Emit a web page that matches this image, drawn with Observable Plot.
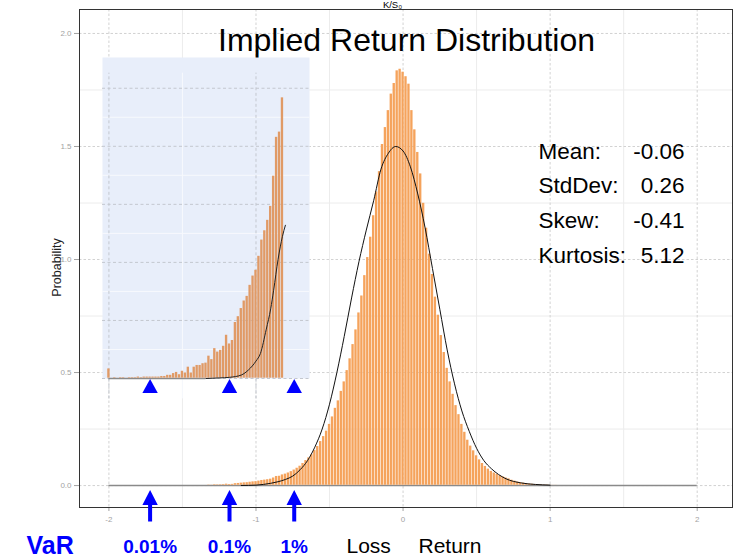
<!DOCTYPE html>
<html><head><meta charset="utf-8">
<script src="https://cdn.jsdelivr.net/npm/d3@7"></script>
<script src="https://cdn.jsdelivr.net/npm/@observablehq/plot@0.6"></script>
<style>
html,body{margin:0;padding:0;background:#fff;}
#wrap{position:relative;width:734px;height:557px;overflow:hidden;}
#wrap svg{position:absolute;max-width:none;}
</style></head><body><div id="wrap"></div>
<script>
// ---------------- DATA ----------------
// histogram bins: centres from -2.00 step 0.02
const binStart = -2.00;
const binWidth = 0.02;
const density = [
  0.0017,0.0001,0.0002,0.0001,0.0002,0.0002,0.0001,0.0002,0.0002,0.0002,
  0.0003,0.0002,0.0003,0.0003,0.0003,0.0003,0.0003,0.0003,0.0004,0.0004,
  0.0006,0.0006,0.0009,0.0011,0.0007,0.0013,0.0010,0.0020,0.0010,0.0020,
  0.0023,0.0023,0.0026,0.0027,0.0039,0.0033,0.0052,0.0046,0.0049,0.0056,
  0.0075,0.0060,0.0066,0.0097,0.0107,0.0121,0.0134,0.0142,0.0161,0.0177,
  0.0187,0.0211,0.0239,0.0255,0.0273,0.0297,0.0349,0.0416,0.0425,0.0484,
  0.052,0.057,0.063,0.070,0.078,0.087,0.099,0.112,0.124,0.138,
  0.156,0.174,0.196,0.218,0.242,0.272,0.305,0.343,0.376,0.418,
  0.46,0.51,0.562,0.625,0.69,0.765,0.84,0.93,1.01,1.10,
  1.195,1.30,1.39,1.51,1.585,1.66,1.733,1.78,1.836,1.843,
  1.83,1.81,1.777,1.66,1.575,1.475,1.38,1.25,1.14,1.025,
  0.935,0.835,0.755,0.665,0.59,0.52,0.46,0.405,0.355,0.315,
  0.272,0.237,0.202,0.176,0.155,0.133,0.115,0.099,0.086,0.074,
  0.064,0.057,0.051,0.045,0.040,0.035,0.031,0.025,0.021,0.017,
  0.014,0.012,0.010,0.008,0.007,0.006,0.005,0.005,0.004,0.004,
  0.003,0.003,0.003,0.002,0.002,0.002,0.002,0.002,0.002,0.001,
  0,0,0.002,0.002,0.002
];
// fitted normal curve (main panel)
const curveX = [-1.1,-1.0,-0.95,-0.9,-0.85,-0.8,-0.75,-0.7,-0.65,-0.6,
  -0.55,-0.5,-0.45,-0.4,-0.35,-0.3,-0.25,-0.2,-0.15,-0.1,
  -0.05,0,0.05,0.1,0.15,0.2,0.25,0.3,0.35,0.4,
  0.45,0.5,0.55,0.6,0.7,0.8,0.9,1.0];
const curveY = [0.0005,0.002,0.005,0.010,0.017,0.027,0.042,0.070,0.11,0.17,
  0.25,0.36,0.50,0.66,0.83,0.99,1.13,1.26,1.40,1.47,
  1.50,1.48,1.41,1.29,1.14,0.96,0.78,0.60,0.45,0.33,
  0.24,0.165,0.11,0.075,0.03,0.012,0.005,0.002];
// fitted normal curve (tail inset)
const insetCurveX = [-1.34,-1.25,-1.18,-1.1,-1.05,-1.0,-0.97,-0.93,-0.9,-0.88,-0.85,-0.82,-0.80];
const insetCurveY = [0,0.0001,0.0002,0.0006,0.0015,0.003,0.0043,0.0085,0.012,0.0152,0.0205,0.0245,0.0264];
const insetLastBin = -0.82;
// VaR levels
const varLabels = ["0.01%","0.1%","1%"];
const varX = [-1.72,-1.18,-0.74];
// statistics
const statLabels = ["Mean:","StdDev:","Skew:","Kurtosis:"];
const statValues = ["-0.06","0.26","-0.41","5.12"];
// ticks
const xTicks = [-2,-1,0,1,2];
const xMinor = [-1.5,-0.5,0.5,1.5];
const yTicks = [0,0.5,1,1.5,2];
const yMinor = [0.25,0.75,1.25,1.75];
const insetMajorY = [0,0.01,0.02,0.03,0.04,0.05];
const insetMinorY = [0.005,0.015,0.025,0.035,0.045];
const insetMajorX = [-2,-1];
const insetMinorX = [-1.5];

// ---------------- BUILD ----------------
const bins = density.map((h,i)=>({x: +(binStart + i*binWidth).toFixed(2), h}));
const insetBins = bins.filter(d => d.x <= insetLastBin + 1e-9);
const curve = curveX.map((x,i)=>({x, y: curveY[i]}));
const insetCurve = insetCurveX.map((x,i)=>({x, y: insetCurveY[i]}));

const FONT = '"Liberation Sans", Arial, Helvetica, sans-serif';
const W = 734, H = 557;
const M = {top: 9, right: 2, bottom: 50, left: 79};
const xDomain = [-2.2, 2.24];
const yDomain = [-0.097, 2.106];
const BLUE = "#0000ff";
const BAR = "#f5a35c";

const upArrow = {draw(ctx){
  ctx.moveTo(0,-17.5); ctx.lineTo(7.7,-2.5); ctx.lineTo(2,-2.5); ctx.lineTo(2,14);
  ctx.lineTo(-2,14); ctx.lineTo(-2,-2.5); ctx.lineTo(-7.7,-2.5); ctx.closePath();
}};
const upTri = {draw(ctx){
  ctx.moveTo(0,0.5); ctx.lineTo(7.7,14.5); ctx.lineTo(-7.7,14.5); ctx.closePath();
}};

function label(text, px, py, o = {}) {
  return Plot.text([text], {frameAnchor: "top-left", dx: px - M.left, dy: py - M.top,
    lineAnchor: "bottom", fill: "black", fontFamily: FONT, ...o});
}

const main = Plot.plot({
  width: W, height: H,
  marginTop: M.top, marginRight: M.right, marginBottom: M.bottom, marginLeft: M.left,
  style: {fontFamily: FONT, fontSize: "8px", color: "#a3a3a3", background: "white"},
  x: {domain: xDomain, ticks: xTicks, tickFormat: d => String(d), tickSize: 4, tickPadding: 5, label: null},
  y: {domain: yDomain, ticks: yTicks, tickFormat: d => d.toFixed(1), tickSize: 5, tickPadding: 3, label: null},
  marks: [
    Plot.ruleY(yMinor, {stroke: "#ececec"}),
    Plot.ruleX(xMinor, {stroke: "#ececec"}),
    Plot.ruleY(yTicks, {stroke: "#d2d2d2", strokeDasharray: "2.5,2"}),
    Plot.ruleX(xTicks, {stroke: "#d2d2d2", strokeDasharray: "2.5,2"}),
    Plot.ruleY([0], {x1: xTicks[0], x2: xTicks[xTicks.length-1], stroke: "#8a8a8a", strokeWidth: 1.6}),
    Plot.rectY(bins, {x1: d => d.x - binWidth/2, x2: d => d.x + binWidth/2, y: "h", fill: BAR, inset: 0.3}),
    Plot.line(curve, {x: "x", y: "y", stroke: "#111", strokeWidth: 1, curve: "monotone-x"}),
    Plot.frame({stroke: "#333"}),
    Plot.dot(varX, {x: d => d, frameAnchor: "bottom", symbol: upArrow, fill: BLUE, stroke: "none"}),
    Plot.text(varLabels, {x: (d,i) => varX[i], frameAnchor: "bottom", dy: 45, lineAnchor: "bottom",
      textAnchor: "middle", fontWeight: "bold", fontSize: 19, fill: BLUE, fontFamily: FONT}),
    label("VaR", 26, 553, {textAnchor: "start", fontWeight: "bold", fontSize: 25, fill: BLUE}),
    label("Loss", 346, 552, {textAnchor: "start", fontSize: 21}),
    label("Return", 418, 552, {textAnchor: "start", fontSize: 21}),
    label("Implied Return Distribution", 406, 50, {textAnchor: "middle", fontSize: 32}),
    label("K/S\u2080", 392, 7.5, {textAnchor: "middle", fontSize: 9.5}),
    ...statLabels.map((s,i) => label(s, 538, 158 + 34.8*i, {textAnchor: "start", fontSize: 22.5})),
    ...statValues.map((s,i) => label(s, 684, 158 + 34.8*i, {textAnchor: "end", fontSize: 22.5})),
    Plot.text(["Probability"], {frameAnchor: "left", dx: 56 - M.left, dy: 9, rotate: -90,
      textAnchor: "middle", lineAnchor: "middle", fontSize: 12.5, fill: "#222", fontFamily: FONT})
  ]
});
main.style.left = "0px"; main.style.top = "0px";

// inset (left tail zoom) sharing the main x mapping
const pxPerUnit = (W - M.left - M.right) / (xDomain[1] - xDomain[0]);
const IN = {left: 102, top: 57, width: 207, frame: 321, below: 22};
const insetXDomain = [xDomain[0] + (IN.left - M.left)/pxPerUnit,
                      xDomain[0] + (IN.left + IN.width - M.left)/pxPerUnit];
const insetYMax = 0.0553;
const insetRuleSpan = {y1: -0.0035, y2: 0.0526};
const inset = Plot.plot({
  width: IN.width, height: IN.frame + IN.below,
  marginTop: 0, marginRight: 0, marginLeft: 0, marginBottom: IN.below,
  style: {background: "transparent", overflow: "visible"},
  x: {domain: insetXDomain, axis: null},
  y: {domain: [0, insetYMax], axis: null},
  marks: [
    Plot.frame({fill: "#e8eefa", stroke: null}),
    Plot.ruleY(insetMinorY, {stroke: "#f7f9fd"}),
    Plot.ruleX(insetMinorX, {...insetRuleSpan, stroke: "#f7f9fd"}),
    Plot.ruleY(insetMajorY, {stroke: "#c3c7cf", strokeDasharray: "3,2.5"}),
    Plot.ruleX(insetMajorX, {...insetRuleSpan, stroke: "#c3c7cf", strokeDasharray: "3,2.5"}),
    Plot.ruleY([0], {x1: xTicks[0], x2: insetCurveX[0], stroke: "#8a8a8a", strokeWidth: 1.6}),
    Plot.rectY(insetBins, {x1: d => d.x - binWidth/2, x2: d => d.x + binWidth/2, y: "h", fill: "#e09a66", inset: 0.3}),
    Plot.line(insetCurve, {x: "x", y: "y", stroke: "#222", strokeWidth: 1, curve: "monotone-x"}),
    Plot.dot(varX, {x: d => d, frameAnchor: "bottom", symbol: upTri, fill: BLUE, stroke: "none"})
  ]
});
inset.style.left = IN.left + "px"; inset.style.top = IN.top + "px";

const wrap = document.getElementById("wrap");
wrap.appendChild(main);
wrap.appendChild(inset);
</script>
</body></html>
